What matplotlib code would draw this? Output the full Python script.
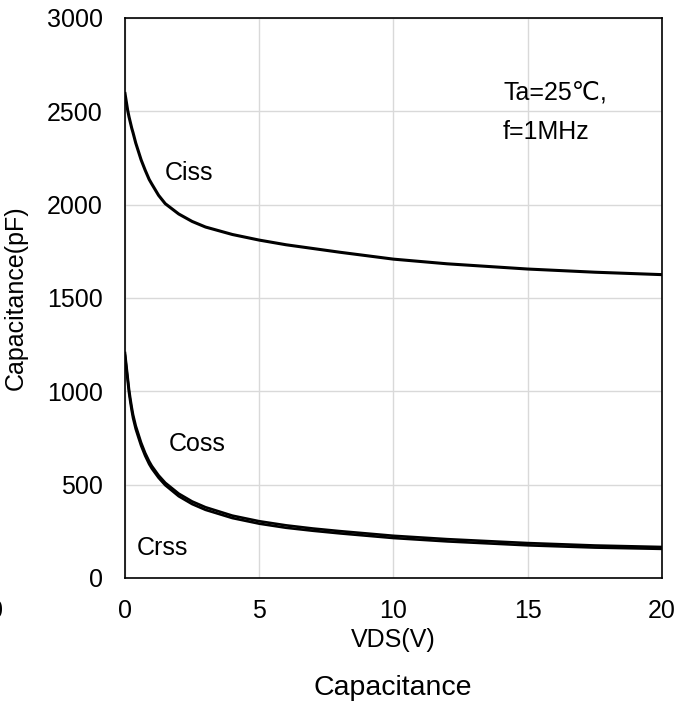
import matplotlib.pyplot as plt

plt.rcParams['font.family'] = ['Liberation Sans', 'DejaVu Sans']

# values
vds = [0, 0.05, 0.1, 0.15, 0.2, 0.25, 0.3, 0.4, 0.5, 0.6, 0.75, 0.9, 1.0, 1.25, 1.5,
       2, 2.5, 3, 4, 5, 6, 7, 8, 10, 12, 15, 17.5, 20]
ciss = [2595, 2550, 2505, 2470, 2440, 2410, 2385, 2330, 2285, 2240, 2185, 2135, 2110,
        2050, 2005, 1950, 1910, 1880, 1840, 1810, 1785, 1765, 1745, 1708, 1683, 1655,
        1638, 1625]
coss = [1205, 1140, 1075, 1010, 960, 915, 875, 815, 770, 725, 670, 625, 600,
        550, 510, 452, 410, 379, 334, 304, 282, 265, 251, 226, 208, 187, 174, 166]
crss = [1190, 1122, 1057, 992, 942, 897, 857, 798, 753, 709, 655, 610, 586,
        537, 497, 438, 396, 365, 321, 291, 269, 253, 239, 214, 196, 175, 163, 156]

xticks = [0, 5, 10, 15, 20]
yticks = [0, 500, 1000, 1500, 2000, 2500, 3000]

fig = plt.figure(figsize=(6.91, 7.04), dpi=100)
ax = fig.add_axes([0.1809, 0.179, 0.777, 0.7955])

ax.plot(vds, ciss, color='black', lw=2.2, solid_joinstyle='round')
ax.plot(vds, coss, color='black', lw=1.9, solid_joinstyle='round')
ax.plot(vds, crss, color='black', lw=1.9, solid_joinstyle='round')

ax.set_xlim(0, 20)
ax.set_ylim(0, 3000)
ax.set_xticks(xticks)
ax.set_yticks(yticks)
ax.tick_params(axis='y', length=0, labelsize=18, pad=16)
ax.tick_params(axis='x', length=0, labelsize=18, pad=15)
ax.grid(color='#d9d9d9', lw=1.0)
ax.set_axisbelow(True)
for s in ax.spines.values():
    s.set_color('black')
    s.set_linewidth(1.2)

ax.set_xlabel('VDS(V)', fontsize=18, labelpad=4)
ax.set_ylabel('Capacitance(pF)', fontsize=18, labelpad=14)

ax.text(1.49, 2170, 'Ciss', fontsize=18, va='center')
ax.text(1.64, 720, 'Coss', fontsize=18, va='center')
ax.text(0.45, 160, 'Crss', fontsize=18, va='center')
ax.text(14.1, 2598, 'Ta=25℃,', fontsize=18, va='center')
ax.text(14.05, 2390, 'f=1MHz', fontsize=18, va='center')

fig.text(393 / 691, 1 - 688 / 704, 'Capacitance', fontsize=20.5, ha='center', va='center')
# clipped tick label at the left edge of the source image
fig.text(-11 / 691, 1 - 611 / 704, '0', fontsize=18, ha='left', va='center')

fig.savefig('out.png', dpi=100)
